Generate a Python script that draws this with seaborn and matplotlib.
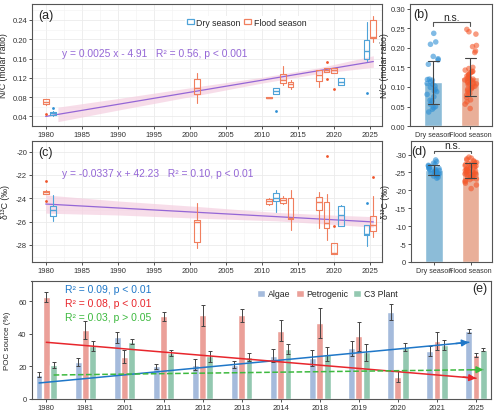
import numpy as np
import pandas as pd
import matplotlib
matplotlib.use("Agg")
import matplotlib.pyplot as plt
from matplotlib.patches import Patch
import seaborn as sns

# ---- (a) / (c): box statistics for each sampling campaign ----
box_years = [1980, 1981, 2001, 2011, 2012, 2013, 2014, 2018, 2019, 2020, 2021, 2025, 2025]
box_season = ["Flood", "Dry", "Flood", "Flood", "Dry", "Flood", "Flood",
              "Flood", "Flood", "Flood", "Dry", "Dry", "Flood"]

nc_lo  = [0.064, 0.041, 0.067, 0.078, 0.086, 0.105, 0.096, 0.102, 0.132, 0.130, 0.105, 0.155, 0.194]
nc_q1  = [0.066, 0.044, 0.086, 0.0785, 0.086, 0.109, 0.100, 0.114, 0.132, 0.130, 0.105, 0.160, 0.202]
nc_med = [0.070, 0.047, 0.098, 0.079, 0.092, 0.115, 0.107, 0.126, 0.137, 0.137, 0.112, 0.175, 0.205]
nc_q3  = [0.076, 0.050, 0.118, 0.080, 0.098, 0.1275, 0.111, 0.136, 0.141, 0.141, 0.120, 0.199, 0.239]
nc_hi  = [0.077, 0.052, 0.130, 0.0805, 0.098, 0.145, 0.116, 0.137, 0.141, 0.141, 0.120, 0.236, 0.249]
nc_out = [[0.046], [0.057], [], [], [0.051], [], [], [], [0.153, 0.117], [0.096], [], [0.088], []]

d13c_lo  = [-23.65, -25.97, -28.3, -24.6, -25.14, -24.5, -26.68, -26.57, -27.6, -28.77, -26.4, -28.05, -27.34]
d13c_q1  = [-23.62, -25.54, -27.77, -24.48, -24.25, -24.42, -25.77, -25.05, -26.57, -28.77, -26.34, -27.14, -26.77]
d13c_med = [-23.5, -24.97, -26.0, -24.25, -23.97, -24.14, -25.7, -24.28, -26.11, -28.7, -25.43, -27.1, -26.25]
d13c_q3  = [-23.34, -24.63, -25.85, -24.05, -23.54, -23.99, -23.99, -23.9, -24.34, -27.85, -24.68, -26.28, -25.48]
d13c_hi  = [-23.3, -23.7, -24.4, -23.95, -23.28, -23.85, -23.28, -23.48, -23.6, -27.85, -24.54, -26.28, -23.82]
d13c_out = [[-22.49, -24.2], [], [], [], [], [], [], [], [-20.4], [-26.4], [], [-24.4], [-22.2]]

# linear fits (from the figure annotations) and read-off confidence band half widths
nc_fit = (0.0025, -4.91)
nc_fit_span = (1980, 2025.5)
nc_band_x = [1981.7, 1990, 2001, 2010, 2018, 2025.5]
nc_band_half = [0.015, 0.012, 0.009, 0.006, 0.006, 0.012]

d13c_fit = (-0.0337, 42.23)
d13c_fit_span = (1980, 2025.5)
d13c_band_x = [1980, 1990, 2001, 2012, 2020, 2025.5]
d13c_band_half = [0.78, 0.6, 0.5, 0.36, 0.4, 0.45]

# ---- (b) / (d): individual samples by season ----
dry_nc = [0.237, 0.215, 0.209, 0.178, 0.172, 0.169, 0.158, 0.120, 0.119, 0.117, 0.109,
          0.107, 0.102, 0.099, 0.094, 0.090, 0.081, 0.075, 0.066, 0.064, 0.056, 0.050,
          0.043, 0.036, 0.047, 0.088, 0.113]
flood_nc = [0.247, 0.241, 0.235, 0.206, 0.203, 0.192, 0.188, 0.147, 0.143, 0.139, 0.137,
            0.132, 0.128, 0.124, 0.119, 0.115, 0.111, 0.107, 0.102, 0.098, 0.094, 0.090,
            0.084, 0.079, 0.073, 0.067, 0.056, 0.045, 0.130, 0.120, 0.110, 0.100, 0.140,
            0.125, 0.115, 0.105, 0.095, 0.085, 0.135, 0.118, 0.122, 0.108, 0.062, 0.150]
dry_d13c = [-28.5, -28.0, -27.6, -27.3, -27.0, -26.8, -26.6, -26.4, -26.2, -26.0, -25.9,
            -25.7, -25.5, -25.4, -25.2, -25.0, -24.8, -24.6, -24.4, -24.2, -24.0, -23.7,
            -23.4, -25.8, -26.1, -25.3]
flood_d13c = [-29.3, -29.0, -28.8, -28.5, -28.3, -28.0, -27.8, -27.6, -27.4, -27.2, -27.0,
              -26.8, -26.6, -26.4, -26.2, -26.0, -25.8, -25.6, -25.4, -25.2, -25.0, -24.8,
              -24.6, -24.4, -24.2, -24.0, -23.8, -23.6, -23.4, -23.2, -23.0, -22.7, -22.4,
              -22.0, -21.5, -20.5, -26.5, -25.9, -25.5, -25.1, -24.5, -27.5, -26.9, -24.9, -25.3]

# ---- (e): POC source apportionment ----
poc_years = ["1980", "1981", "2001", "2011", "2012", "2013", "2014", "2018", "2019", "2020", "2021", "2025"]
algae_mean = [14.9, 22.9, 37.8, 20.0, 21.0, 21.0, 26.6, 25.0, 31.1, 53.2, 29.6, 41.9]
algae_err  = [1.5, 2.5, 3.5, 1.5, 3.5, 2.0, 4.0, 5.0, 4.5, 5.0, 3.0, 1.2]
petro_mean = [62.4, 42.3, 26.0, 50.7, 51.5, 51.5, 41.9, 46.6, 38.5, 13.7, 35.8, 27.0]
petro_err  = [3.0, 5.5, 4.0, 3.0, 6.5, 4.0, 6.5, 9.0, 9.0, 3.5, 5.5, 1.5]
c3_mean    = [20.9, 32.7, 35.2, 28.2, 26.2, 25.6, 30.7, 27.6, 28.6, 31.7, 33.3, 30.3]
c3_err     = [2.0, 3.0, 1.5, 2.0, 3.5, 2.5, 3.0, 4.0, 5.0, 2.5, 3.0, 1.0]
sources = ["Algae", "Petrogenic", "C3 Plant"]
trend_start = [9.8, 34.8, 14.7]
trend_end = [34.8, 12.7, 18.0]
trend_text = ["R² = 0.09, p < 0.01", "R² = 0.08, p < 0.01", "R² = 0.03, p > 0.05"]

# ---- style ----
sns.set_theme(style="ticks")
plt.rcParams["font.family"] = ["Liberation Sans", "DejaVu Sans"]
plt.rcParams["axes.unicode_minus"] = False
plt.rcParams["xtick.labelsize"] = 5.5
plt.rcParams["ytick.labelsize"] = 5.5

frame_col = "#555555"
season_col = {"Dry": "#4FA3D8", "Flood": "#F07F5E"}
season_pt = {"Dry": "#2E8FD4", "Flood": "#F0542A"}
bar_pal = {"Dry season": "#80BFE4", "Flood season": "#F6A98C"}
pt_pal = {"Dry season": "#2E8FD4", "Flood season": "#F4582B"}
src_pal = {"Algae": "#9CB9E5", "Petrogenic": "#F9958B", "C3 Plant": "#8AD1B1"}
trend_col = ["#1F77C8", "#E8262C", "#3DB93F"]
fit_col = "#9466D6"
band_col = "#F5CFE0"
lab_fs = 6.3


def frame(ax):
    for s in ax.spines.values():
        s.set_color(frame_col)
        s.set_linewidth(0.8)
    ax.tick_params(colors="#333333", length=2, width=0.6, pad=1.5)


def box_panel(ax, lo, q1, med, q3, hi, out, fit, span, band_x, band_half):
    ax.grid(True, which="both", color="#EBEBEB", lw=0.6, zorder=0)
    ax.grid(True, which="minor", color="#F2F2F2", lw=0.4)
    ax.set_axisbelow(True)
    xs = np.array(band_x)
    mid = fit[0] * xs + fit[1]
    ax.fill_between(xs, mid - np.array(band_half), mid + np.array(band_half),
                    color=band_col, alpha=0.7, lw=0, zorder=1)
    ax.plot(span, [fit[0] * span[0] + fit[1], fit[0] * span[1] + fit[1]],
            color=fit_col, lw=0.9, zorder=2)
    counts = pd.Series(box_years).value_counts()
    for season in ["Dry", "Flood"]:
        stats, pos = [], []
        for i, yr in enumerate(box_years):
            if box_season[i] != season:
                continue
            shift = 0.0
            if counts[yr] > 1:
                shift = -0.45 if season == "Dry" else 0.45
            pos.append(yr + shift)
            stats.append(dict(whislo=lo[i], q1=q1[i], med=med[i], q3=q3[i],
                              whishi=hi[i], fliers=out[i]))
        c = season_col[season]
        ax.bxp(stats, positions=pos, widths=0.8, showcaps=False,
               boxprops=dict(color=c, lw=0.8), whiskerprops=dict(color=c, lw=0.8),
               medianprops=dict(color=c, lw=1.0),
               flierprops=dict(marker="o", markersize=2.0, markerfacecolor=season_pt[season],
                               markeredgecolor="none"),
               manage_ticks=False, zorder=3)
    ax.set_xlim(1978.1, 2026.7)
    ax.set_xticks(range(1980, 2026, 5))
    ax.set_xticks(np.arange(1982.5, 2026, 5), minor=True)
    frame(ax)
    ax.tick_params(which="minor", length=0)


fig = plt.figure(figsize=(5, 4.14), dpi=100)
ax_a = fig.add_axes([0.064, 0.693, 0.700, 0.295])
ax_b = fig.add_axes([0.820, 0.693, 0.164, 0.295])
ax_c = fig.add_axes([0.064, 0.365, 0.700, 0.292])
ax_d = fig.add_axes([0.822, 0.365, 0.162, 0.292])
ax_e = fig.add_axes([0.063, 0.034, 0.918, 0.285])

# (a)
box_panel(ax_a, nc_lo, nc_q1, nc_med, nc_q3, nc_hi, nc_out, nc_fit, nc_fit_span, nc_band_x, nc_band_half)
ax_a.set_ylim(0.02, 0.273)
ax_a.set_yticks(np.arange(0.04, 0.25, 0.04))
ax_a.set_yticks(np.arange(0.06, 0.27, 0.04), minor=True)
ax_a.yaxis.set_major_formatter(matplotlib.ticker.FormatStrFormatter("%.2f"))
ax_a.set_ylabel("N/C (molar ratio)", fontsize=lab_fs)
ax_a.yaxis.set_label_coords(-0.069, 0.5)
ax_a.text(0.039, 0.91, "(a)", transform=ax_a.transAxes, fontsize=9, ha="center", va="center")
ax_a.text(1982.2, 0.171, "y = 0.0025 x - 4.91   R² = 0.56, p < 0.001", color=fit_col,
          fontsize=7.4, va="center")
handles = [Patch(facecolor="white", edgecolor=season_col[s], lw=0.9, label=s + " season")
           for s in ["Dry", "Flood"]]
ax_a.legend(handles=handles, loc="center left", bbox_to_anchor=(0.425, 0.85), ncol=2,
            fontsize=6.3, handlelength=0.8, handleheight=0.6, handletextpad=0.3,
            columnspacing=0.4, borderpad=0.2, frameon=True, facecolor="white",
            edgecolor="none", framealpha=1)

# (c)
box_panel(ax_c, d13c_lo, d13c_q1, d13c_med, d13c_q3, d13c_hi, d13c_out, d13c_fit, d13c_fit_span,
          d13c_band_x, d13c_band_half)
ax_c.set_ylim(-29.45, -19.1)
ax_c.set_yticks([-28, -26, -24, -22, -20])
ax_c.set_yticks([-29, -27, -25, -23, -21], minor=True)
ax_c.set_ylabel("δ¹³C (‰)", fontsize=lab_fs)
ax_c.yaxis.set_label_coords(-0.063, 0.5)
ax_c.text(0.039, 0.91, "(c)", transform=ax_c.transAxes, fontsize=9, ha="center", va="center")
ax_c.text(1982.2, -21.8, "y = -0.0337 x + 42.23   R² = 0.10, p < 0.01", color=fit_col,
          fontsize=7.4, va="center")

# (b) and (d)
np.random.seed(3)


def season_panel(ax, dry, flood, ylabel, label_x):
    df = pd.DataFrame({"season": ["Dry season"] * len(dry) + ["Flood season"] * len(flood),
                       "value": dry + flood})
    sns.barplot(data=df, x="season", y="value", hue="season", palette=bar_pal, width=0.48,
                errorbar="sd", capsize=0.3, err_kws={"color": "#444444", "linewidth": 0.8},
                legend=False, ax=ax)
    sns.stripplot(data=df, x="season", y="value", hue="season", palette=pt_pal, size=4.0,
                  alpha=0.6, jitter=0.17, linewidth=0, legend=False, ax=ax, zorder=1.5)
    ax.set_xlim(-0.62, 1.58)
    ax.set_xlabel("")
    ax.set_ylabel(ylabel, fontsize=lab_fs)
    ax.yaxis.set_label_coords(label_x, 0.5)
    frame(ax)
    ax.tick_params(axis="x", labelsize=5.1)


season_panel(ax_b, dry_nc, flood_nc, "N/C (molar ratio)", -0.255)
ax_b.set_ylim(0, 0.312)
ax_b.set_yticks(np.arange(0, 0.31, 0.05))
ax_b.yaxis.set_major_formatter(matplotlib.ticker.FormatStrFormatter("%.2f"))
ax_b.plot([0, 0, 1, 1], [0.256, 0.265, 0.265, 0.256], color="#555555", lw=0.8)
ax_b.text(0.5, 0.266, "n.s.", ha="center", va="bottom", fontsize=7.4)
ax_b.text(0.13, 0.915, "(b)", transform=ax_b.transAxes, fontsize=9, ha="center", va="center")

season_panel(ax_d, dry_d13c, flood_d13c, "δ¹³C (‰)", -0.26)
ax_d.set_ylim(0, -33.8)
ax_d.set_yticks([0, -5, -10, -15, -20, -25, -30])
ax_d.plot([0, 0, 1, 1], [-30.4, -31.1, -31.1, -30.4], color="#555555", lw=0.8)
ax_d.text(0.5, -31.2, "n.s.", ha="center", va="bottom", fontsize=7.4)
ax_d.text(0.10, 0.915, "(d)", transform=ax_d.transAxes, fontsize=9, ha="center", va="center")

# (e)
df_e = pd.DataFrame({
    "year": poc_years * 3,
    "source": [s for s in sources for _ in poc_years],
    "value": algae_mean + petro_mean + c3_mean,
})
errs = [algae_err, petro_err, c3_err]
sns.barplot(data=df_e, x="year", y="value", hue="source", palette=src_pal, width=0.56,
            gap=0.06, errorbar=None, ax=ax_e)
bar_conts = list(ax_e.containers)
for k, cont in enumerate(bar_conts):
    xs = [p.get_x() + p.get_width() / 2 for p in cont.patches]
    hs = [p.get_height() for p in cont.patches]
    ax_e.errorbar(xs, hs, yerr=errs[k], fmt="none", ecolor="#444444", elinewidth=0.7,
                  capsize=1.6, capthick=0.7, zorder=3)
    x0, x1 = xs[0], xs[-1]
    y0, y1 = trend_start[k], trend_end[k]
    ls = "--" if k == 2 else "-"
    ax_e.plot([x0, x1], [y0, y1], color=trend_col[k], lw=1.1, ls=ls, zorder=4)
    f = 0.97
    ax_e.annotate("", xy=(x1, y1), xytext=(x0 + f * (x1 - x0), y0 + f * (y1 - y0)),
                  arrowprops=dict(arrowstyle="-|>", color=trend_col[k], lw=1.1,
                                  mutation_scale=10, shrinkA=0, shrinkB=0), zorder=5)
    ax_e.text(0.47, [67.5, 58.9, 50.5][k], trend_text[k], color=trend_col[k], fontsize=7.5,
              va="center")
ax_e.set_xlim(-0.38, 11.37)
ax_e.set_ylim(0, 72.5)
ax_e.set_yticks([0, 20, 40, 60])
ax_e.set_xlabel("")
ax_e.set_ylabel("POC source (%)", fontsize=5.8)
ax_e.yaxis.set_label_coords(-0.0436, 0.5)
ax_e.legend(loc="center left", bbox_to_anchor=(0.475, 0.89), ncol=3, frameon=False,
            fontsize=6.3, handlelength=0.9, handleheight=0.9, handletextpad=0.3,
            columnspacing=0.6, title=None)
ax_e.text(0.977, 0.94, "(e)", transform=ax_e.transAxes, fontsize=9, ha="center", va="center")
frame(ax_e)

fig.savefig("out.png", dpi=100)
